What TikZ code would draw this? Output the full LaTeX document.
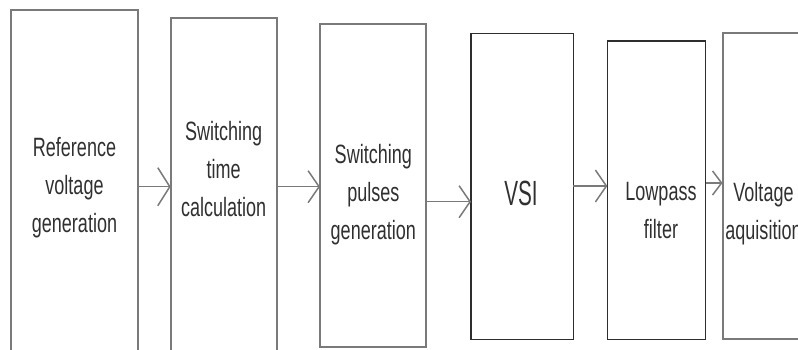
\documentclass[tikz,border=0pt]{standalone}
\usepackage{fontspec}
\setmainfont{Liberation Sans}
\usepackage{xcolor}
\usepackage{tikz}
\usetikzlibrary{arrows.meta}

\definecolor{boxgray}{HTML}{7A7A7A}
\definecolor{boxdark}{HTML}{2E2E2E}
\definecolor{txtgray}{HTML}{303030}

\tikzset{
    blk/.style={draw=boxgray, line width=2pt, anchor=north west, outer sep=0pt, inner sep=0pt},
    blkdark/.style={blk, draw=boxdark, line width=1.4pt},
    lbl/.style={align=center, text=txtgray, inner sep=0pt, font=\fontsize{26.5}{38}\selectfont, xscale=0.68, transform shape},
    arr/.style={draw=boxgray, line width=1.5pt, -{Straight Barb[length=11pt,width=32pt]}}
}

\begin{document}
\begin{tikzpicture}[x=1pt,y=1pt]
    \useasboundingbox (0,0) rectangle (798,-349);
    \clip (0,0) rectangle (798,-349);

    \node[blk, minimum width=127.6pt, minimum height=370pt] (ref) at (10.7,-10) {};
    \node[blk, minimum width=106pt, minimum height=370pt] (swt) at (170.7,-17.7) {};
    \node[blk, minimum width=106pt, minimum height=322.4pt] (spg) at (320,-24.3) {};
    \node[blkdark, minimum width=102.3pt, minimum height=306pt] (vsi) at (471,-33.3) {};
    \node[blkdark, minimum width=98.2pt, minimum height=298.3pt] (lpf) at (607.3,-41) {};
    \node[blk, minimum width=110pt, minimum height=306pt] (vaq) at (722.5,-33.3) {};

    \node[lbl] (ref-t) at (74.5,-187.2) {Reference\\voltage\\generation};
    \node[lbl] (swt-t) at (223.7,-169) {Switching\\time\\calculation};
    \node[lbl] (spg-t) at (373.3,-194.2) {Switching\\pulses\\generation};
    \node[lbl, font=\fontsize{35}{40}\selectfont, xscale=0.87] (vsi-t) at (521,-193.5) {VSI};
    \node[lbl] (lpf-t) at (661,-211) {Lowpass\\filter};
    \node[lbl] (vaq-t) at (763.5,-213.9) {Voltage\\aquisition};

    \draw[arr, -{Straight Barb[length=12pt,width=38pt]}] (ref.east|-0,-186.7) -- (swt.west|-0,-186.7);
    \draw[arr] (swt.east|-0,-186.7) -- (spg.west|-0,-186.7);
    \draw[arr] (spg.east|-0,-201.7) -- (vsi.west|-0,-201.7);
    \draw[arr] (vsi.east|-0,-186) -- (lpf.west|-0,-186);
    \draw[arr, -{Straight Barb[length=9pt,width=24pt]}] (lpf.east|-0,-183) -- (vaq.west|-0,-183);
\end{tikzpicture}
\end{document}
